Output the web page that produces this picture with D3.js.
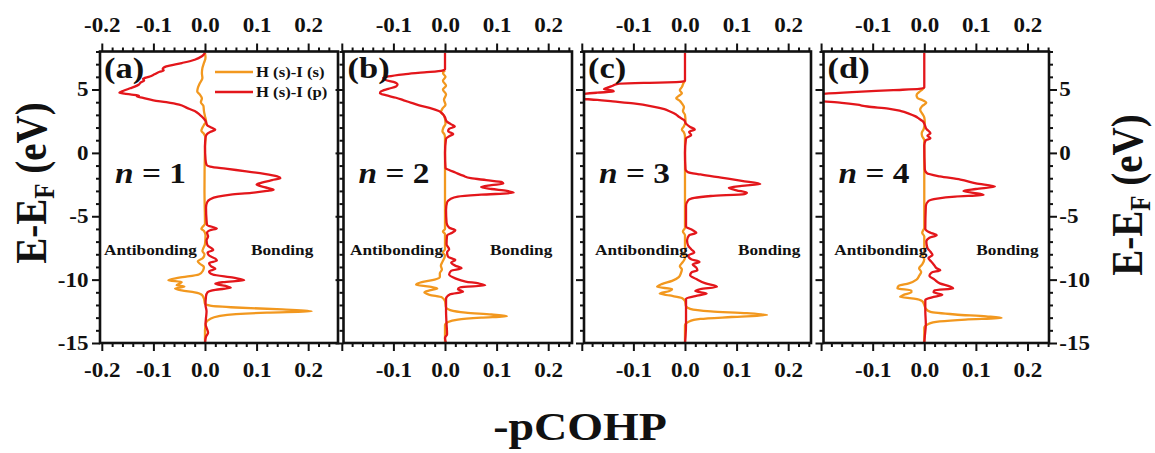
<!DOCTYPE html>
<html>
<head>
<meta charset="utf-8">
<script src="https://cdn.jsdelivr.net/npm/d3@7"></script>
<style>
  body { margin: 0; background: #fff; }
  svg { display: block; }
  text { font-family: "Liberation Serif", "Times New Roman", serif; font-weight: bold; fill: #111; }
</style>
</head>
<body>
<svg id="chart" width="1155" height="453"></svg>
<script>
// ---- data: [energy (eV), -pCOHP] pairs, energy descending ----
const panelTags = ["(a)", "(b)", "(c)", "(d)"];
const layerCounts = ["1", "2", "3", "4"];
const seriesNames = ["H (s)-I (s)", "H (s)-I (p)"];
const energyMajorTicks = [5, 0, -5, -10, -15];
const cohpMajorTicks = [-0.2, -0.1, 0.0, 0.1, 0.2];

const ssA = [[7.9,0],[7.5,0.001],[7.1,-0.002],[6.7,-0.005],[6.3,-0.006],[5.9,-0.005],[5.5,-0.01],[5.1,-0.014],[4.85,-0.015],[4.6,-0.01],[4.3,-0.006],[4.0,-0.008],[3.7,-0.003],[3.3,-0.002],[2.9,0],[2.5,0.002],[2.2,-0.002],[1.9,-0.006],[1.75,-0.007],[1.5,-0.002],[1.2,0.001],[0.5,0],[-3,-0.001],[-5.6,0],[-5.85,-0.005],[-6.0,-0.007],[-6.15,-0.002],[-6.5,0.001],[-7.2,0],[-7.5,-0.003],[-7.75,-0.005],[-8.0,-0.001],[-8.3,-0.004],[-8.55,-0.014],[-8.75,-0.01],[-9.0,-0.002],[-9.3,-0.004],[-9.6,-0.012],[-9.85,-0.05],[-10.04,-0.071],[-10.18,-0.045],[-10.32,-0.05],[-10.45,-0.055],[-10.55,-0.04],[-10.7,-0.058],[-10.85,-0.045],[-11.0,-0.02],[-11.2,-0.006],[-11.5,-0.002],[-11.9,0],[-12.05,0.01],[-12.2,0.06],[-12.35,0.15],[-12.49,0.207],[-12.6,0.12],[-12.72,0.06],[-12.9,0.025],[-13.1,0.01],[-13.4,0.002],[-14,0],[-15,0]];
const spA = [[7.9,0],[7.62,-0.006],[7.35,-0.02],[7.09,-0.045],[6.82,-0.075],[6.62,-0.082],[6.5,-0.08],[6.4,-0.088],[6.2,-0.098],[6.03,-0.107],[5.85,-0.12],[5.72,-0.118],[5.55,-0.125],[5.4,-0.128],[5.25,-0.135],[5.1,-0.145],[4.9,-0.158],[4.75,-0.166],[4.62,-0.145],[4.52,-0.128],[4.45,-0.132],[4.35,-0.12],[4.15,-0.1],[4.0,-0.075],[3.8,-0.05],[3.55,-0.035],[3.3,-0.02],[3.0,-0.01],[2.7,-0.002],[2.45,0.002],[2.2,0.004],[2.0,0.012],[1.82,0.02],[1.65,0.01],[1.45,0.003],[1.2,0.001],[0.5,0],[-0.5,0.001],[-0.95,0.003],[-1.08,0.01],[-1.25,0.04],[-1.45,0.08],[-1.65,0.115],[-1.85,0.14],[-2.0,0.146],[-2.15,0.13],[-2.35,0.11],[-2.5,0.1],[-2.7,0.115],[-2.9,0.133],[-3.0,0.12],[-3.15,0.09],[-3.3,0.05],[-3.45,0.025],[-3.65,0.01],[-3.9,0.004],[-4.3,0.002],[-5.3,0.003],[-5.7,0.004],[-5.85,0.015],[-5.96,0.023],[-6.1,0.01],[-6.3,0.004],[-6.6,0.006],[-6.9,0.003],[-7.3,0.005],[-7.5,0.012],[-7.67,0.016],[-7.85,0.005],[-8.1,0.008],[-8.35,0.02],[-8.5,0.023],[-8.7,0.008],[-8.95,0.012],[-9.15,0.02],[-9.35,0.008],[-9.6,0.015],[-9.85,0.055],[-10.04,0.076],[-10.2,0.035],[-10.32,0.02],[-10.5,0.04],[-10.65,0.05],[-10.8,0.02],[-11.0,0.005],[-11.3,0.002],[-12,0.001],[-12.5,0.003],[-13,0.002],[-13.5,0.001],[-14.2,0.006],[-14.5,0.002],[-15,0]];

const ssB = [[6.5,0],[6.3,-0.004],[6.0,0.001],[5.7,-0.004],[5.3,0.002],[5.0,-0.004],[4.6,0.002],[4.2,-0.002],[3.8,0.001],[3.5,-0.005],[3.2,-0.008],[3.0,-0.003],[2.7,0],[2.3,0.001],[2.0,-0.003],[1.7,-0.005],[1.45,-0.001],[1.2,0],[0,0],[-6.0,0],[-6.2,-0.004],[-6.4,0],[-7.6,0],[-7.85,-0.004],[-8.1,0],[-8.6,-0.005],[-8.9,-0.008],[-9.2,-0.006],[-9.5,-0.01],[-9.8,-0.01],[-10.0,-0.02],[-10.2,-0.045],[-10.4,-0.056],[-10.55,-0.03],[-10.7,-0.015],[-10.85,-0.03],[-11.0,-0.04],[-11.2,-0.03],[-11.4,-0.006],[-11.7,0],[-12.2,0.002],[-12.4,0.01],[-12.6,0.04],[-12.75,0.09],[-12.88,0.12],[-13.0,0.07],[-13.15,0.025],[-13.35,0.006],[-13.6,0],[-15,0]];
const spB = [[7.9,0],[6.6,0],[6.5,-0.005],[6.35,-0.04],[6.2,-0.08],[6.03,-0.11],[5.9,-0.12],[5.75,-0.115],[5.6,-0.1],[5.4,-0.092],[5.24,-0.095],[5.05,-0.11],[4.85,-0.124],[4.7,-0.126],[4.55,-0.115],[4.35,-0.095],[4.15,-0.08],[3.95,-0.065],[3.75,-0.05],[3.55,-0.03],[3.3,-0.012],[3.05,-0.004],[2.8,0],[2.5,0.003],[2.25,0.012],[2.08,0.019],[1.9,0.008],[1.7,0.006],[1.5,0.016],[1.35,0.01],[1.1,0.002],[0,0],[-1.2,0.001],[-1.35,0.008],[-1.55,0.02],[-1.8,0.035],[-2.0,0.05],[-2.15,0.08],[-2.3,0.11],[-2.42,0.113],[-2.55,0.09],[-2.7,0.07],[-2.85,0.09],[-3.0,0.12],[-3.15,0.133],[-3.3,0.07],[-3.45,0.025],[-3.65,0.01],[-3.9,0.004],[-4.5,0.002],[-5.5,0.003],[-5.9,0.008],[-6.1,0.02],[-6.3,0.014],[-6.5,0.004],[-7.2,0.003],[-7.6,0.008],[-7.85,0.004],[-8.2,0.006],[-8.45,0.02],[-8.65,0.012],[-8.9,0.02],[-9.1,0.032],[-9.3,0.012],[-9.6,0.008],[-9.9,0.02],[-10.15,0.04],[-10.3,0.065],[-10.45,0.078],[-10.6,0.03],[-10.75,0.025],[-10.95,0.035],[-11.15,0.01],[-11.5,0.002],[-12.5,0.002],[-13.5,0.003],[-14.3,0.004],[-14.6,0],[-15,0.002]];

const ssC = [[5.7,0],[5.5,-0.003],[5.2,-0.006],[4.95,-0.01],[4.7,-0.006],[4.5,-0.012],[4.32,-0.017],[4.1,-0.01],[3.9,-0.006],[3.6,-0.002],[3.3,-0.004],[3.0,0],[2.5,0.001],[2.1,-0.002],[1.85,-0.006],[1.6,-0.002],[1.3,0],[0,0],[-5.9,0],[-6.2,-0.004],[-6.5,0],[-7.8,0],[-8.0,-0.004],[-8.3,0],[-8.6,-0.004],[-8.95,-0.01],[-9.2,-0.006],[-9.5,-0.008],[-9.8,-0.012],[-10.1,-0.025],[-10.35,-0.045],[-10.57,-0.054],[-10.75,-0.025],[-10.9,-0.03],[-11.1,-0.049],[-11.25,-0.03],[-11.45,-0.006],[-11.7,0],[-12.1,0.002],[-12.3,0.01],[-12.5,0.05],[-12.65,0.12],[-12.8,0.159],[-12.95,0.09],[-13.1,0.03],[-13.3,0.008],[-13.6,0],[-15,0]];
const spC = [[7.9,0],[5.7,0],[5.6,-0.01],[5.52,-0.08],[5.45,-0.13],[5.3,-0.14],[5.15,-0.15],[5.03,-0.157],[4.93,-0.14],[4.85,-0.138],[4.75,-0.17],[4.6,-0.21],[4.45,-0.23],[4.3,-0.21],[4.18,-0.17],[4.06,-0.14],[3.9,-0.1],[3.66,-0.062],[3.45,-0.04],[3.27,-0.029],[3.05,-0.018],[2.85,-0.012],[2.6,-0.002],[2.3,0.002],[2.05,0.01],[1.85,0.019],[1.65,0.008],[1.4,0.012],[1.15,0.002],[0,0],[-1.3,0.001],[-1.5,0.005],[-1.7,0.03],[-1.95,0.07],[-2.2,0.11],[-2.45,0.146],[-2.6,0.11],[-2.75,0.085],[-2.95,0.1],[-3.15,0.12],[-3.25,0.115],[-3.4,0.05],[-3.55,0.018],[-3.75,0.006],[-4.2,0.002],[-5.8,0.002],[-6.1,0.015],[-6.3,0.022],[-6.5,0.008],[-6.9,0.004],[-7.3,0.006],[-7.6,0.012],[-7.85,0.018],[-8.1,0.006],[-8.4,0.012],[-8.6,0.028],[-8.8,0.015],[-9.05,0.022],[-9.25,0.024],[-9.45,0.012],[-9.65,0.01],[-9.95,0.022],[-10.3,0.04],[-10.57,0.062],[-10.75,0.03],[-10.9,0.02],[-11.1,0.042],[-11.3,0.02],[-11.5,0.002],[-12.5,0.002],[-13.5,0.002],[-14.5,0.001],[-15,0]];

const ssD = [[5.15,0],[5.0,-0.004],[4.8,-0.01],[4.55,-0.015],[4.32,-0.013],[4.15,-0.003],[3.95,0.004],[3.7,-0.004],[3.4,-0.008],[3.1,-0.004],[2.8,0],[2.4,0.001],[1.9,-0.001],[1.55,-0.005],[1.3,-0.004],[1.0,0],[0,0],[-5.9,0],[-6.3,-0.004],[-6.6,0],[-7.9,0],[-8.1,-0.004],[-8.4,0],[-8.8,-0.004],[-9.1,-0.01],[-9.4,-0.006],[-9.7,-0.01],[-10.0,-0.015],[-10.3,-0.03],[-10.5,-0.05],[-10.7,-0.052],[-10.85,-0.025],[-11.0,-0.025],[-11.2,-0.04],[-11.36,-0.047],[-11.5,-0.02],[-11.7,-0.004],[-12.0,0],[-12.3,0.003],[-12.55,0.012],[-12.75,0.06],[-12.9,0.12],[-13.02,0.15],[-13.15,0.08],[-13.3,0.03],[-13.5,0.008],[-13.8,0],[-15,0]];
const spD = [[7.9,0],[5.15,0],[5.05,-0.01],[4.95,-0.06],[4.8,-0.14],[4.65,-0.2],[4.45,-0.24],[4.25,-0.24],[4.08,-0.2],[3.95,-0.16],[3.8,-0.13],[3.66,-0.11],[3.5,-0.07],[3.3,-0.045],[3.1,-0.03],[2.9,-0.018],[2.7,-0.01],[2.5,-0.003],[2.2,0.001],[1.9,0.004],[1.55,0.012],[1.35,0.006],[1.15,0.012],[1.0,0.003],[0.6,0],[-1.3,0.001],[-1.6,0.005],[-1.85,0.03],[-2.1,0.07],[-2.4,0.1],[-2.66,0.137],[-2.85,0.1],[-3.0,0.076],[-3.15,0.095],[-3.32,0.115],[-3.45,0.06],[-3.6,0.025],[-3.8,0.008],[-4.2,0.003],[-6.0,0.002],[-6.3,0.012],[-6.5,0.024],[-6.7,0.01],[-7.0,0.004],[-7.5,0.006],[-7.8,0.012],[-8.05,0.016],[-8.3,0.008],[-8.6,0.014],[-8.9,0.02],[-9.1,0.024],[-9.25,0.031],[-9.45,0.014],[-9.7,0.01],[-10.0,0.02],[-10.3,0.03],[-10.55,0.05],[-10.7,0.056],[-10.85,0.02],[-11.0,0.018],[-11.2,0.035],[-11.4,0.015],[-11.6,0.002],[-12.5,0.002],[-13.5,0.003],[-14.5,0.001],[-15,0]];

const ssSeries = [ssA, ssB, ssC, ssD];
const spSeries = [spA, spB, spC, spD];

// ---- layout ----
const COLORS = { ss: "#F2981F", sp: "#E3161B" };
const SX = 1.15;               // horizontal glyph stretch
const plotTop = 51.5, plotBottom = 343;
const frames = [
  { left: 100,   right: 338,  xDomain: [-0.2035, 0.2578], anti: -8, bond: 46 },
  { left: 343.5, right: 572,  xDomain: [-0.1967, 0.2461], anti: -2, bond: 45 },
  { left: 584,   right: 811,  xDomain: [-0.1957, 0.2442], anti: 3,  bond: 53 },
  { left: 823.5, right: 1049, xDomain: [-0.1953, 0.2417], anti: 3,  bond: 52 }
];

const svg = d3.select("#chart");
const y = d3.scaleLinear().domain([-15, 8]).range([plotBottom, plotTop]);

const round2 = v => Math.round(v * 100) / 100;
const cohpMinor = d3.range(-10, 14).map(i => round2(i * 0.02));
const energyMinor = d3.range(-15, 9).filter(v => v % 5 !== 0);

function styleAxis(g, fontSize) {
  g.select(".domain").remove();
  g.selectAll(".tick line").attr("stroke", "#111").attr("stroke-width", 2);
  g.selectAll(".tick text")
    .attr("font-size", fontSize)
    .attr("font-family", '"Liberation Serif","Times New Roman",serif')
    .attr("font-weight", "bold")
    .attr("fill", "#111");
}

function stretchText(g, x, yPos, str, size, anchor, rotate) {
  const t = g.append("text")
    .attr("transform", `translate(${x},${yPos}) scale(${SX},1)` + (rotate ? ` rotate(${rotate})` : ""))
    .attr("text-anchor", anchor)
    .attr("font-size", size);
  if (str !== null) t.text(str);
  return t;
}

const line = x => d3.line()
  .x(d => x(d[1]))
  .y(d => y(d[0]))
  .curve(d3.curveMonotoneY);

frames.forEach((f, i) => {
  const x = d3.scaleLinear().domain(f.xDomain).range([f.left, f.right]);
  const g = svg.append("g");
  const inDomain = v => v >= f.xDomain[0] - 0.005 && v <= f.xDomain[1] + 0.0005;
  const majors = cohpMajorTicks.filter(inDomain);
  const minors = cohpMinor.filter(v => inDomain(v) && !majors.some(m => Math.abs(m - v) < 1e-6));
  const fmt = d => (i > 0 && d < -0.15) ? "" : d.toFixed(1);

  // clip region for the curves
  const clipId = "clip" + i;
  svg.append("clipPath").attr("id", clipId)
    .append("rect").attr("x", f.left).attr("y", plotTop)
    .attr("width", f.right - f.left).attr("height", plotBottom - plotTop);

  // curves
  const curves = g.append("g").attr("clip-path", `url(#${clipId})`);
  curves.append("path").datum(ssSeries[i])
    .attr("d", line(x)).attr("fill", "none")
    .attr("stroke", COLORS.ss).attr("stroke-width", 2.3).attr("stroke-linejoin", "round");
  curves.append("path").datum(spSeries[i])
    .attr("d", line(x)).attr("fill", "none")
    .attr("stroke", COLORS.sp).attr("stroke-width", 2.3).attr("stroke-linejoin", "round");

  // bottom axis
  g.append("g").attr("transform", `translate(0,${plotBottom})`)
    .call(d3.axisBottom(x).tickValues(minors).tickSize(4).tickFormat(""))
    .call(a => styleAxis(a, 20));
  g.append("g").attr("transform", `translate(0,${plotBottom})`)
    .call(d3.axisBottom(x).tickValues(majors).tickSize(8).tickPadding(12).tickFormat(fmt))
    .call(a => styleAxis(a, 20))
    .call(a => a.selectAll(".tick text").attr("transform", `scale(${SX},1)`));

  // top axis
  g.append("g").attr("transform", `translate(0,${plotTop})`)
    .call(d3.axisTop(x).tickValues(minors).tickSize(4).tickFormat(""))
    .call(a => styleAxis(a, 20));
  g.append("g").attr("transform", `translate(0,${plotTop})`)
    .call(d3.axisTop(x).tickValues(majors).tickSize(8).tickPadding(12).tickFormat(fmt))
    .call(a => styleAxis(a, 20))
    .call(a => a.selectAll(".tick text").attr("transform", `scale(${SX},1)`));

  // left axis (labels on the first panel only)
  g.append("g").attr("transform", `translate(${f.left},0)`)
    .call(d3.axisLeft(y).tickValues(energyMinor).tickSize(4).tickFormat(""))
    .call(a => styleAxis(a, 20));
  g.append("g").attr("transform", `translate(${f.left},0)`)
    .call(d3.axisLeft(y).tickValues(energyMajorTicks).tickSize(8).tickPadding(2)
      .tickFormat(d => i === 0 ? String(d) : ""))
    .call(a => styleAxis(a, 20))
    .call(a => a.selectAll(".tick text").attr("transform", `scale(${SX},1)`));

  // right axis on the last panel
  if (i === frames.length - 1) {
    g.append("g").attr("transform", `translate(${f.right},0)`)
      .call(d3.axisRight(y).tickValues(energyMinor).tickSize(4).tickFormat(""))
      .call(a => styleAxis(a, 20));
    g.append("g").attr("transform", `translate(${f.right},0)`)
      .call(d3.axisRight(y).tickValues(energyMajorTicks).tickSize(8).tickPadding(1)
        .tickFormat(d => String(d)))
      .call(a => styleAxis(a, 20))
      .call(a => a.selectAll(".tick text").attr("transform", `scale(${SX},1)`));
  }

  // frame
  g.append("rect").attr("x", f.left).attr("y", plotTop)
    .attr("width", f.right - f.left).attr("height", plotBottom - plotTop)
    .attr("fill", "none").attr("stroke", "#111").attr("stroke-width", 2.6);

  // annotations
  stretchText(g, f.left + 4, 78, panelTags[i], 30, "start");
  const nt = stretchText(g, f.left + 15, 183, null, 29, "start");
  nt.append("tspan").attr("font-style", "italic").text("n");
  nt.append("tspan").text(" = " + layerCounts[i]);
  const x0 = x(0);
  stretchText(g, x0 + f.anti, 255, "Antibonding", 15, "end");
  stretchText(g, x0 + f.bond, 255, "Bonding", 15, "start");
});

// legend in the first panel
const legend = svg.append("g");
[["ss", 72], ["sp", 92]].forEach(([key, ly], k) => {
  legend.append("line").attr("x1", 215).attr("x2", 253).attr("y1", ly).attr("y2", ly)
    .attr("stroke", COLORS[key]).attr("stroke-width", 2.3);
  stretchText(legend, 256, ly + 5, seriesNames[k], 14.5, "start").attr("fill", COLORS[key]);
});

// axis titles
function energyTitle(x, yPos) {
  const t = stretchText(svg, x, yPos, null, 39, "middle", -90);
  t.append("tspan").text("E-E");
  t.append("tspan").attr("font-size", 25).attr("dy", 7).text("F");
  t.append("tspan").attr("dy", -7).text(" (eV)");
}
energyTitle(46, 183);
energyTitle(1142, 195);
stretchText(svg, 580, 440, "-pCOHP", 40, "middle");
</script>
</body>
</html>
